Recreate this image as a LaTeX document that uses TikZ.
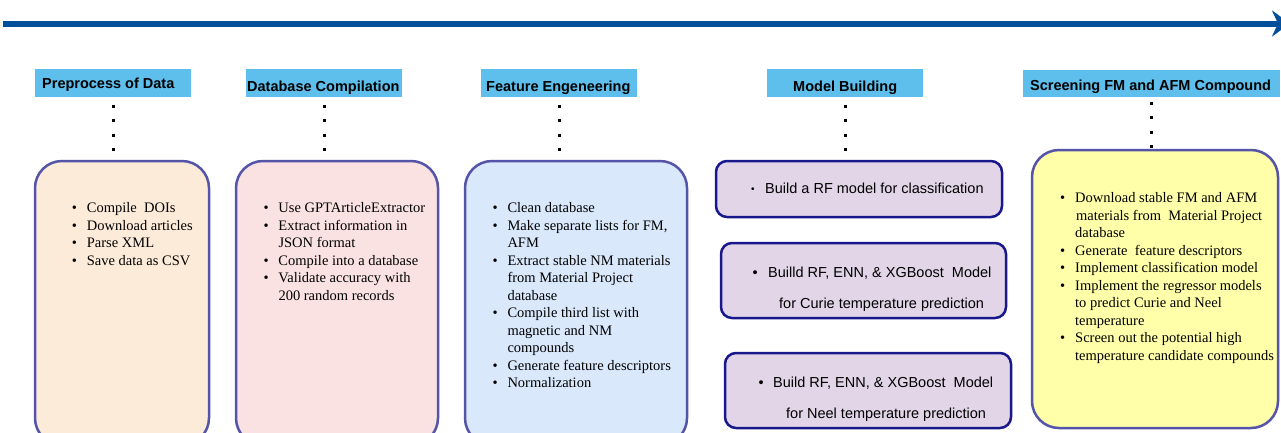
\documentclass[tikz,border=0pt]{standalone}
\usepackage{fontspec}
\setmainfont{Liberation Serif}
\newfontfamily\hv{Liberation Sans}
\usetikzlibrary{arrows.meta,calc}
\definecolor{arrowblue}{RGB}{0,80,155}
\definecolor{hdrblue}{RGB}{94,190,236}
\definecolor{peach}{RGB}{253,235,217}
\definecolor{pinkf}{RGB}{250,226,226}
\definecolor{bluef}{RGB}{218,232,252}
\definecolor{lav}{RGB}{225,213,231}
\definecolor{yel}{RGB}{255,255,170}
\definecolor{slate}{RGB}{84,84,168}
\definecolor{navy}{RGB}{24,24,140}
\newcommand\bul{\makebox[15pt][l]{•}}
\newcommand\ind{\hspace*{15pt}}
\begin{document}
\begin{tikzpicture}[x=1pt,y=-1pt,
  hdr/.style={fill=hdrblue, draw=none, inner sep=0, minimum height=28},
  hdrtext/.style={font=\hv\bfseries\fontsize{14.5}{17}\selectfont, inner sep=0, anchor=base west},
  bigbox/.style={draw=slate, line width=2.5pt, rounded corners=27pt, inner sep=0},
  modbox/.style={draw=navy, fill=lav, line width=2.5pt, rounded corners=11pt, inner sep=0},
  list/.style={font=\fontsize{14.5}{17.5}\selectfont, align=left, inner sep=0, anchor=north west},
  modtext/.style={font=\hv\fontsize{14.5}{17}\selectfont, inner sep=0, anchor=base west},
  dotline/.style={line width=3pt, dash pattern=on 3pt off 11.5pt, black}
]
\useasboundingbox (0,0) rectangle (1281,432);
\clip (0,0) rectangle (1281,432);
\fill[white] (0,0) rectangle (1281,432);

% timeline arrow
\coordinate (as) at (3,23.5);
\coordinate (ae) at (1290,23.5);
\draw[arrowblue, line width=6pt, -{Stealth[length=18pt, width=26pt, inset=6pt]}] (as) -- (ae);

% headers
\node[hdr, minimum width=156] (h1) at (113,83) {};
\node[hdr, minimum width=156] (h2) at (324,83) {};
\node[hdr, minimum width=156] (h3) at (559,83) {};
\node[hdr, minimum width=156] (h4) at (845,83) {};
\node[hdr, minimum width=257, minimum height=27] (h5) at (1151.5,83.5) {};
\node[hdrtext] (h1t) at (42,88) {Preprocess of Data};
\node[hdrtext] (h2t) at (247,91) {Database Compilation};
\node[hdrtext] (h3t) at (486,91) {Feature Engeneering};
\node[hdrtext] (h4t) at (793,91) {Model Building};
\node[hdrtext] (h5t) at (1030,90.5) {Screening FM and AFM Compound};

% boxes
\node[bigbox, fill=peach, minimum width=174, minimum height=284] (b1) at (122,303) {};
\node[bigbox, fill=pinkf, minimum width=202, minimum height=284] (b2) at (337,303) {};
\node[bigbox, fill=bluef, minimum width=222, minimum height=284] (b3) at (576,303) {};
\node[bigbox, fill=yel, minimum width=246, minimum height=278] (b5) at (1155,289) {};
\node[modbox, minimum width=286, minimum height=56] (m1) at (859,189) {};
\node[modbox, minimum width=285, minimum height=75] (m2) at (863.5,280.5) {};
\node[modbox, minimum width=286, minimum height=75] (m3) at (868,390.5) {};

% dotted links
\draw[dotline] ($(h1.south)+(0,7.5)$) -- ($(h1.south)+(0,54.5)$);
\draw[dotline] ($(h2.south)+(0,7.5)$) -- ($(h2.south)+(0,54.5)$);
\draw[dotline] ($(h3.south)+(0,7.5)$) -- ($(h3.south)+(0,54.5)$);
\draw[dotline] ($(h4.south)+(0,7.5)$) -- ($(h4.south)+(0,54.5)$);
\draw[dotline] ($(h5.south)+(0,4.5)$) -- ($(h5.south)+(0,51.5)$);

% list texts
\node[list] (b1t) at (71.7,200.5) {\rule{0pt}{12pt}\bul Compile\ \ DOIs\\
\bul Download articles\\
\bul Parse XML\\
\bul Save data as CSV};
\node[list] (b2t) at (263.3,200.5) {\rule{0pt}{12pt}\bul Use GPTArticleExtractor\\
\bul Extract information in\\
\ind JSON format\\
\bul Compile into a database\\
\bul Validate accuracy with\\
\ind 200 random records};
\node[list] (b3t) at (492.3,200.5) {\rule{0pt}{12pt}\bul Clean database\\
\bul Make separate lists for FM,\\
\ind AFM\\
\bul Extract stable NM materials\\
\ind from Material Project\\
\ind database\\
\bul Compile third list with\\
\ind magnetic and NM\\
\ind compounds\\
\bul Generate feature descriptors\\
\bul Normalization};
\node[list] (b5t) at (1060,190.5) {\rule{0pt}{12pt}\bul Download stable FM and AFM\\
\ind\hspace*{1pt}materials from\ \ Material Project\\
\ind database\\
\bul Generate\ \ feature descriptors\\
\bul Implement classification model\\
\bul Implement the regressor models\\
\ind to predict Curie and Neel\\
\ind temperature\\
\bul Screen out the potential high\\
\ind temperature candidate compounds};

% model texts
\node[modtext] (m1t) at (751,193.5) {\makebox[14pt][l]{\raisebox{1pt}{\fontsize{10}{10}\selectfont •}}Build a RF model for classification};
\node[modtext] (m2a) at (752.5,277) {\makebox[15.5pt][l]{•}Builld RF, ENN, \& XGBoost\ \ Model};
\node[modtext] (m2b) at (779,308) {for Curie temperature prediction};
\node[modtext] (m3a) at (758.5,387) {\makebox[14.5pt][l]{•}Build RF, ENN, \& XGBoost\ \ Model};
\node[modtext] (m3b) at (786,418) {for Neel temperature prediction};
\end{tikzpicture}
\end{document}
